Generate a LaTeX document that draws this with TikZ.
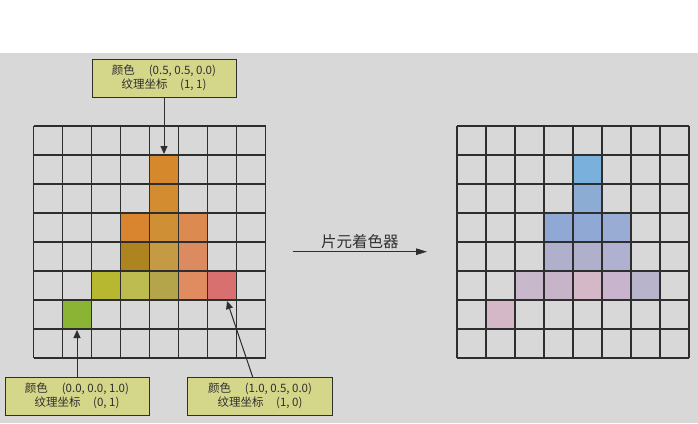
\documentclass[tikz,border=0pt]{standalone}
\usepackage{fontspec}
\setmainfont{Noto Sans CJK SC}
\usetikzlibrary{arrows.meta}
\definecolor{bg}{HTML}{D8D8D8}
\definecolor{boxfill}{HTML}{D4D68A}
\definecolor{txt}{HTML}{303030}
\definecolor{gl}{HTML}{2E2E2E}
% left grid colours
\definecolor{La}{HTML}{D6882C}
\definecolor{Lb}{HTML}{D48C30}
\definecolor{Lc}{HTML}{D9842F}
\definecolor{Ld}{HTML}{CF9035}
\definecolor{Le}{HTML}{DC8A4F}
\definecolor{Lf}{HTML}{AE8420}
\definecolor{Lg}{HTML}{C49A45}
\definecolor{Lh}{HTML}{DC8A60}
\definecolor{Li}{HTML}{B8B830}
\definecolor{Lj}{HTML}{BCBC50}
\definecolor{Lk}{HTML}{B4A44A}
\definecolor{Ll}{HTML}{E08C60}
\definecolor{Lm}{HTML}{D87070}
\definecolor{Ln}{HTML}{8CB434}
% right grid colours
\definecolor{Ra}{HTML}{7AB0DC}
\definecolor{Rb}{HTML}{8CACD4}
\definecolor{Rc}{HTML}{90A8D4}
\definecolor{Rd}{HTML}{98ACD4}
\definecolor{Re}{HTML}{B0B0CC}
\definecolor{Rf}{HTML}{B0B0D0}
\definecolor{Rg}{HTML}{C8B8CC}
\definecolor{Rh}{HTML}{C8B4C8}
\definecolor{Ri}{HTML}{D4B8C8}
\definecolor{Rj}{HTML}{C8B4CC}
\definecolor{Rk}{HTML}{B8B4CC}
\definecolor{Rl}{HTML}{D4B8C8}
\begin{document}
\begin{tikzpicture}[x=1pt,y=-1pt,
  lbl/.style={draw=gl, line width=0.9pt, fill=boxfill, text=txt,
    font=\fontsize{11.5}{13.5}\selectfont, align=center,
    minimum width=144pt, minimum height=38pt, inner sep=0pt},
  gridline/.style={draw=gl, line width=1.1pt},
  arr/.style={-{Triangle[length=8pt,width=7pt]}, line width=1pt, draw=gl, fill=gl},
  midlbl/.style={font=\fontsize{15.5}{17}\selectfont, text=txt, above, inner sep=2pt}]
\useasboundingbox (0,0) rectangle (698,423);
\fill[white] (0,0) rectangle (698,53);
\fill[bg] (0,53) rectangle (698,423);
% ---- left grid cells
\def\gx{33.5}\def\gy{126}\def\cs{29}
\foreach \c/\r/\col in {4/1/La,4/2/Lb,3/3/Lc,4/3/Ld,5/3/Le,3/4/Lf,4/4/Lg,5/4/Lh,
  2/5/Li,3/5/Lj,4/5/Lk,5/5/Ll,6/5/Lm,1/6/Ln}
  \fill[\col] (\gx+\c*\cs,\gy+\r*\cs) rectangle ++(\cs,\cs);
\foreach \i in {0,...,8}{
  \draw[gridline] (\gx+\i*\cs,\gy) -- (\gx+\i*\cs,\gy+8*\cs);
  \draw[gridline] (\gx,\gy+\i*\cs) -- (\gx+8*\cs,\gy+\i*\cs);
}
% ---- right grid cells
\def\hx{457}
\foreach \c/\r/\col in {4/1/Ra,4/2/Rb,3/3/Rc,4/3/Rc,5/3/Rd,3/4/Re,4/4/Re,5/4/Rf,
  2/5/Rg,3/5/Rh,4/5/Ri,5/5/Rj,6/5/Rk,1/6/Rl}
  \fill[\col] (\hx+\c*\cs,\gy+\r*\cs) rectangle ++(\cs,\cs);
\foreach \i in {0,...,8}{
  \draw[gridline] (\hx+\i*\cs,\gy) -- (\hx+\i*\cs,\gy+8*\cs);
  \draw[gridline] (\hx,\gy+\i*\cs) -- (\hx+8*\cs,\gy+\i*\cs);
}
% ---- label boxes
\node[lbl] (top) at (164,78) {颜色\hspace{1.2em}(0.5, 0.5, 0.0)\\纹理坐标\hspace{1.1em}(1, 1)};
\node[lbl] (bl) at (77,396) {颜色\hspace{1.2em}(0.0, 0.0, 1.0)\\纹理坐标\hspace{1.1em}(0, 1)};
\node[lbl, minimum width=145pt] (br) at (260,396) {颜色\hspace{1.2em}(1.0, 0.5, 0.0)\\纹理坐标\hspace{1.1em}(1, 0)};
% ---- targets
\coordinate (tTop) at (164,154);
\coordinate (tBL) at (77,330);
\coordinate (tBR) at (227,301);
\coordinate (sBR) at (252.7,377);
\draw[arr] (top.south) -- (tTop);
\draw[arr] (bl.north) -- (tBL);
\draw[arr] (sBR) -- (tBR);
% ---- middle arrow
\coordinate (ma) at (292.7,251.7);
\coordinate (mb) at (427,251.7);
\draw[arr, -{Triangle[length=11pt,width=6.5pt]}] (ma) -- node[midlbl] {片元着色器} (mb);
\end{tikzpicture}
\end{document}
